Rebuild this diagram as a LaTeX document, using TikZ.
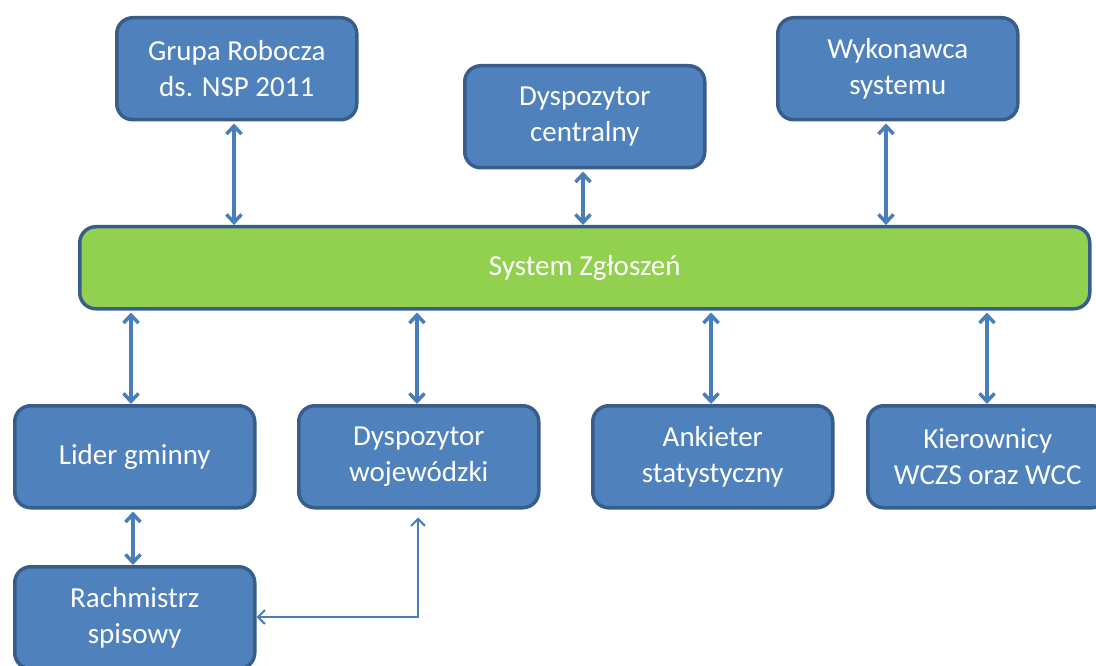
\documentclass[tikz,border=0pt]{standalone}
\usepackage{fontspec}
\setmainfont{Carlito}
\usetikzlibrary{arrows.meta}
\definecolor{boxfill}{HTML}{4F81BD}
\definecolor{boxline}{HTML}{385D8A}
\definecolor{greenfill}{HTML}{92D050}
\definecolor{arrowcol}{HTML}{4A7EBB}
\begin{document}
\begin{tikzpicture}[x=1pt,y=-1pt,
  box/.style={draw=boxline, line width=3.5pt, fill=boxfill, rounded corners=16pt,
    minimum width=240pt, minimum height=102pt, text=white, align=center,
    font=\fontsize{29}{36}\selectfont, anchor=north west, inner sep=0pt},
  bus/.style={box, fill=greenfill, minimum width=1010pt, minimum height=82pt},
  tipthick/.tip={Straight Barb[length=8pt,width=15pt,line width=3.5pt]},
  tipthin/.tip={Straight Barb[length=7pt,width=14pt,line width=2pt]},
  link/.style={draw=arrowcol, line width=4pt, tipthick-tipthick},
  thinlink/.style={draw=arrowcol, line width=2pt, tipthin-tipthin}
]
\useasboundingbox (0,0) rectangle (1096,666);
\node[box] (grupa) at (115,16) {Grupa Robocza\\ds. NSP 2011};
\node[box] (dcent) at (463,64) {Dyspozytor\\centralny};
\node[box] (wyk) at (776,16) {Wykonawca\\systemu};
\node[bus] (sys) at (78,225) {System Zgłoszeń};
\node[box] (lider) at (13,404) {Lider gminny};
\node[box] (dwoj) at (297,404) {Dyspozytor\\wojewódzki};
\node[box] (ank) at (591,404) {Ankieter\\statystyczny};
\node[box] (kier) at (866,404) {Kierownicy\\WCZS oraz WCC};
\node[box] (rach) at (13,565) {Rachmistrz\\spisowy};
\coordinate (corner) at (418,617);
\draw[link] ([yshift=-2pt]grupa.south -| 234,0) -- (sys.north -| 234,0);
\draw[link] ([yshift=-2pt]dcent.south -| 583,0) -- (sys.north -| 583,0);
\draw[link] ([yshift=-2pt]wyk.south -| 886,0) -- (sys.north -| 886,0);
\draw[link] ([yshift=-2pt]sys.south -| 131,0) -- (lider.north -| 131,0);
\draw[link] ([yshift=-2pt]sys.south -| 417,0) -- (dwoj.north -| 417,0);
\draw[link] ([yshift=-2pt]sys.south -| 711,0) -- (ank.north -| 711,0);
\draw[link] ([yshift=-2pt]sys.south -| 987,0) -- (kier.north -| 987,0);
\draw[link] ([yshift=-2pt]lider.south -| 133,0) -- (rach.north -| 133,0);
\draw[thinlink] ([yshift=-8pt]dwoj.south -| 418,0) -- (corner) -- (rach.east |- corner);
\end{tikzpicture}
\end{document}
